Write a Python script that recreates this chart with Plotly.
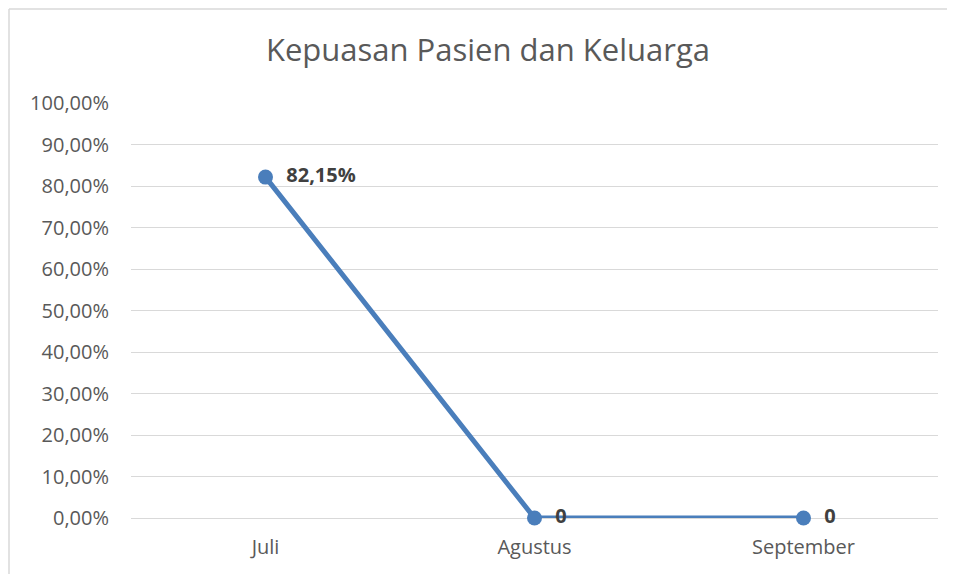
import plotly.graph_objects as go

# data
months = ["Juli", "Agustus", "September"]
satisfaction = [0.8215, 0, 0]
y_ticks = [i / 10 for i in range(11)]

LINE_BLUE = "#4a7ebb"
GRID = "#d9d9d9"
TEXT = "#595959"
FONT = "Open Sans"


def _label(v):
    s = f"{v * 100:.2f}%".replace(".", ",") if v else "0"
    return "  " + s  # leave a gap after the marker, like Excel does


fig = go.Figure(go.Scatter(
    x=months, y=satisfaction, mode="lines+markers+text",
    line=dict(color=LINE_BLUE, width=5),
    marker=dict(color=LINE_BLUE, size=15),
    text=[_label(v) for v in satisfaction], textposition="middle right",
    textfont=dict(family=FONT, size=20, color="#404040", weight="bold"),
    cliponaxis=False,
))

# the page puts the figure 8px in from the top-left, so it is 8px smaller
# than the window and the margins are shifted to keep the plot in place
fig.update_layout(
    width=947, height=566,
    margin=dict(l=123, r=17, t=95, b=56),
    paper_bgcolor="white", plot_bgcolor="white",
    separators=",.",
    showlegend=False,
    title=dict(text="Kepuasan Pasien dan Keluarga", x=480 / 947, xanchor="center",
               y=1 - 42 / 566, yanchor="middle",
               font=dict(family=FONT, size=31, color=TEXT)),
    font=dict(family=FONT, color=TEXT),
)
fig.update_xaxes(range=[-0.5, 2.5], showgrid=False, showline=False,
                 ticks="", ticklabelstandoff=15,
                 tickfont=dict(size=20, color=TEXT))
fig.update_yaxes(range=[0, 1], tickvals=y_ticks, tickformat=".2%",
                 showgrid=True, gridcolor=GRID, gridwidth=1.3,
                 zeroline=True, zerolinecolor=GRID, zerolinewidth=1.3,
                 ticks="", ticklabelstandoff=21,
                 tickfont=dict(size=20, color=TEXT))

# outer chart border: only its top and left edges fall inside the picture
bx0 = (1 - 123) / 807
by1 = (510 - 1) / 415
border = dict(color=GRID, width=1.5)
fig.add_shape(type="line", xref="paper", yref="paper",
              x0=bx0, x1=1.2, y0=by1, y1=by1, line=border, layer="below")
fig.add_shape(type="line", xref="paper", yref="paper",
              x0=bx0, x1=bx0, y0=-0.3, y1=by1, line=border, layer="below")

fig.write_html("out.html")
